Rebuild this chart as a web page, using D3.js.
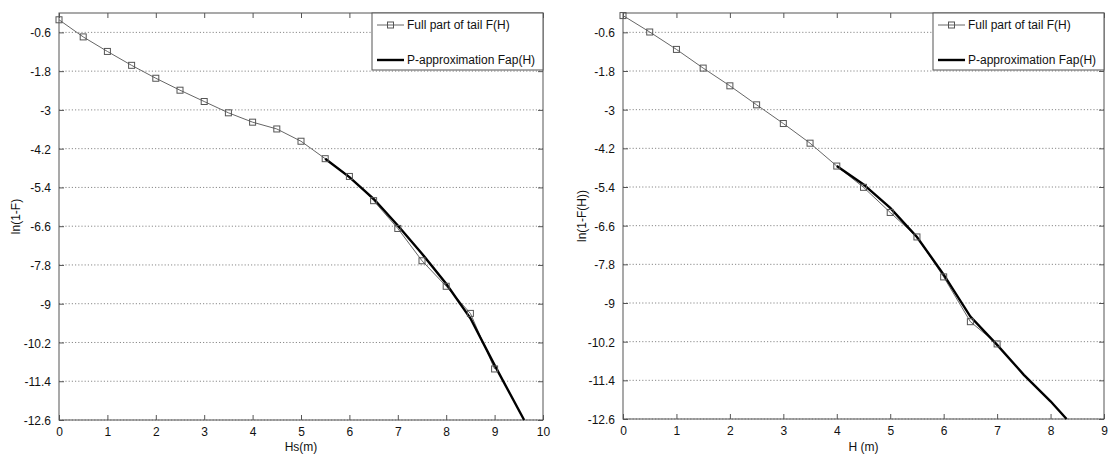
<!DOCTYPE html>
<html><head><meta charset="utf-8">
<script src="https://cdn.jsdelivr.net/npm/d3@7"></script>
<style>
html,body{margin:0;padding:0;background:#fff;}
text{font-family:"Liberation Sans",Arial,sans-serif;fill:#111;}
</style></head>
<body>
<svg id="chart" width="1110" height="454"></svg>
<script>
// ---------- data ----------
const leftH = [0,0.5,1,1.5,2,2.5,3,3.5,4,4.5,5,5.5,6,6.5,7,7.5,8,8.5,9];
const leftFull = [-0.21,-0.74,-1.19,-1.62,-2.02,-2.39,-2.74,-3.09,-3.38,-3.59,-3.97,-4.51,-5.06,-5.81,-6.67,-7.67,-8.46,-9.30,-11.02];
const leftApproxH = [5.5,6,6.5,7,7.5,8,8.5,9,9.61];
const leftApprox = [-4.51,-5.08,-5.75,-6.58,-7.45,-8.38,-9.45,-10.9,-12.6];

const rightH = [0,0.5,1,1.5,2,2.5,3,3.5,4,4.5,5,5.5,6,6.5,7];
const rightFull = [-0.08,-0.59,-1.13,-1.71,-2.26,-2.85,-3.43,-4.04,-4.75,-5.41,-6.19,-6.95,-8.19,-9.58,-10.27];
const rightApproxH = [4,4.5,5,5.5,6,6.5,7,7.5,8,8.3];
const rightApprox = [-4.75,-5.32,-6.05,-6.95,-8.12,-9.42,-10.3,-11.23,-12.05,-12.6];

const yTicks = [-0.6,-1.8,-3,-4.2,-5.4,-6.6,-7.8,-9,-10.2,-11.4,-12.6];
const leftXTicks = [0,1,2,3,4,5,6,7,8,9,10];
const rightXTicks = [0,1,2,3,4,5,6,7,8,9];
const legendLabels = ["Full part of tail F(H)","P-approximation Fap(H)"];

// ---------- drawing ----------
const svg = d3.select("#chart");

function panel(cfg){
  const {x0,x1,y0,y1,xMax,xTicks,xLabel,yLabel,yLabelX,fullX,fullY,apX,apY} = cfg;
  const x = d3.scaleLinear().domain([0,xMax]).range([x0,x1]);
  const y = d3.scaleLinear().domain([-12.6,0]).range([y1,y0]);
  const g = svg.append("g");

  // grid
  g.selectAll("line.grid").data(yTicks).enter().append("line")
    .attr("x1",x0).attr("x2",x1).attr("y1",d=>y(d)).attr("y2",d=>y(d))
    .attr("stroke","#8a8a8a").attr("stroke-width",1).attr("stroke-dasharray","1.2,2");

  // axes (ticks inward)
  const ax = d3.axisBottom(x).tickValues(xTicks).tickSize(-5).tickPadding(7).tickFormat(d=>String(d));
  const axB = g.append("g").attr("transform",`translate(0,${y1})`).call(ax);
  const axT = g.append("g").attr("transform",`translate(0,${y0})`).call(d3.axisTop(x).tickValues(xTicks).tickSize(-5).tickFormat(""));
  const ay = d3.axisLeft(y).tickValues(yTicks).tickSize(-5).tickPadding(8).tickFormat(d=>String(d));
  const axL = g.append("g").attr("transform",`translate(${x0},0)`).call(ay);
  const axR = g.append("g").attr("transform",`translate(${x1},0)`).call(d3.axisRight(y).tickValues(yTicks).tickSize(-5).tickFormat(""));
  [axB,axT,axL,axR].forEach(a=>{
    a.select(".domain").remove();
    a.selectAll(".tick line").attr("stroke","#555");
    a.selectAll("text").style("font-size","12px").style("font-family","'Liberation Sans',Arial,sans-serif").attr("fill","#111");
  });
  axL.selectAll("text").attr("dy","0.38em");

  // box
  g.append("rect").attr("x",x0).attr("y",y0).attr("width",x1-x0).attr("height",y1-y0)
    .attr("fill","none").attr("stroke","#555").attr("stroke-width",1);

  // full series
  const fullData = fullX.map((v,i)=>[v,fullY[i]]);
  const line = d3.line().x(d=>x(d[0])).y(d=>y(d[1]));
  g.append("path").datum(fullData).attr("d",line).attr("fill","none").attr("stroke","#666").attr("stroke-width",1);
  // approximation
  const apData = apX.map((v,i)=>[v,apY[i]]);
  g.append("path").datum(apData).attr("d",line).attr("fill","none").attr("stroke","#000").attr("stroke-width",2.4);
  // markers
  g.selectAll("rect.m").data(fullData).enter().append("rect")
    .attr("x",d=>x(d[0])-3).attr("y",d=>y(d[1])-3).attr("width",6).attr("height",6)
    .attr("fill","none").attr("stroke","#555").attr("stroke-width",1);

  // labels
  g.append("text").attr("x",(x0+x1)/2).attr("y",451).attr("text-anchor","middle")
    .style("font-size","12px").text(xLabel);
  g.append("text").attr("transform",`translate(${yLabelX},${(y0+y1)/2}) rotate(-90)`)
    .attr("text-anchor","middle").attr("dy","0.35em").style("font-size","12px").text(yLabel);

  // legend
  const lw = 171, lh = 57;
  const lx = x1 - lw, ly = y0;
  const lg = g.append("g");
  lg.append("rect").attr("x",lx).attr("y",ly).attr("width",lw).attr("height",lh)
    .attr("fill","#fff").attr("stroke","#555").attr("stroke-width",1);
  // entry 1
  lg.append("line").attr("x1",lx+5).attr("x2",lx+32).attr("y1",ly+12).attr("y2",ly+12).attr("stroke","#666").attr("stroke-width",1);
  lg.append("rect").attr("x",lx+15.5).attr("y",ly+9).attr("width",6).attr("height",6).attr("fill","none").attr("stroke","#555");
  lg.append("text").attr("x",lx+35).attr("y",ly+12).attr("dy","0.35em").style("font-size","12px").text(legendLabels[0]);
  // entry 2
  lg.append("line").attr("x1",lx+5).attr("x2",lx+32).attr("y1",ly+47).attr("y2",ly+47).attr("stroke","#000").attr("stroke-width",2.4);
  lg.append("text").attr("x",lx+35).attr("y",ly+47).attr("dy","0.35em").style("font-size","12px").text(legendLabels[1]);
}

panel({x0:59,x1:543,y0:13,y1:420,xMax:10,xTicks:leftXTicks,xLabel:"Hs(m)",yLabel:"ln(1-F)",yLabelX:16,
  fullX:leftH,fullY:leftFull,apX:leftApproxH,apY:leftApprox});
panel({x0:623,x1:1104,y0:13,y1:419,xMax:9,xTicks:rightXTicks,xLabel:"H (m)",yLabel:"ln(1-F(H))",yLabelX:582,
  fullX:rightH,fullY:rightFull,apX:rightApproxH,apY:rightApprox});
</script>
</body></html>
